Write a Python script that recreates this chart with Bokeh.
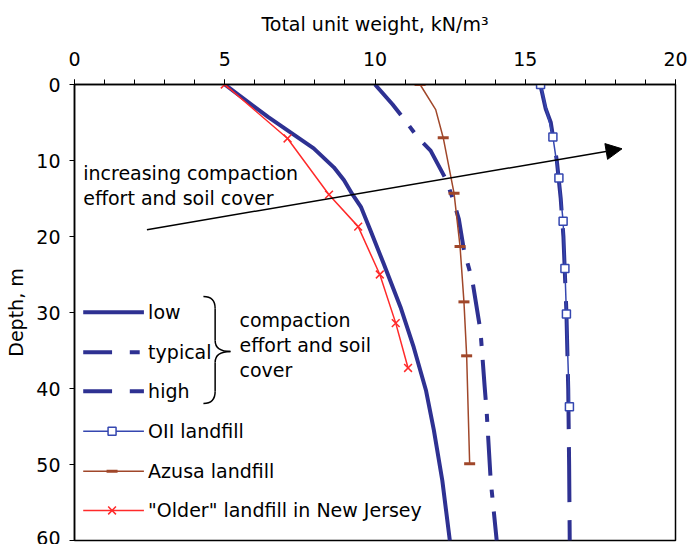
from bokeh.plotting import figure
from bokeh.models import Range1d, Arrow, NormalHead, FixedTicker
from bokeh.core.properties import value
from bokeh.embed import file_html
from bokeh.resources import INLINE

# ---------------- data ----------------
x_ticks = [0, 5, 10, 15, 20]
y_ticks = [0, 10, 20, 30, 40, 50, 60]

low_depth = [0, 4.3, 8.4, 10.9, 12.6, 14.4, 16.1, 19.2, 23.6, 29.3, 34.6, 40.3, 45.5, 52.1, 60]
low_gamma = [5.0, 6.45, 7.96, 8.63, 8.97, 9.24, 9.53, 9.85, 10.29, 10.85, 11.29, 11.70, 11.96, 12.24, 12.49]

typ_depth = [0, 2.6, 4.5, 6.9, 8.7, 12.4, 14.8, 17.7, 21.8, 25.8, 32.4, 39.8, 43.3, 52.1, 60]
typ_gamma = [10.0, 10.58, 10.96, 11.41, 11.85, 12.35, 12.57, 12.79, 12.96, 13.24, 13.51, 13.65, 13.72, 13.85, 14.05]

high_depth = [0, 3.2, 5, 10, 15, 20, 30, 40, 50, 60]
high_gamma = [15.5, 15.68, 15.85, 16.05, 16.18, 16.27, 16.37, 16.43, 16.46, 16.48]

oii_depth = [0, 6.9, 12.3, 18.0, 24.2, 30.2, 42.4]
oii_gamma = [15.51, 15.92, 16.12, 16.26, 16.32, 16.37, 16.47]

azusa_depth = [0, 7.0, 14.3, 21.3, 28.6, 35.7, 49.9]
azusa_gamma = [11.5, 12.27, 12.63, 12.83, 12.96, 13.05, 13.15]
azusa_line_depth = [0, 3.3, 7.0, 14.3, 21.3, 28.6, 35.7, 49.9]
azusa_line_gamma = [11.5, 12.02, 12.27, 12.63, 12.83, 12.96, 13.05, 13.15]

nj_depth = [0, 7.1, 14.5, 18.7, 25.0, 31.4, 37.3]
nj_gamma = [5.0, 7.09, 8.47, 9.44, 10.16, 10.69, 11.1]

legend_labels = ["low", "typical", "high", "OII landfill", "Azusa landfill",
                 "\"Older\" landfill in New Jersey"]
brace_text = ["compaction", "effort and soil", "cover"]
arrow_text = ["increasing compaction", "effort and soil cover"]

# ---------------- styles ----------------
NAVY = "#2E3192"
OII_BLUE = "#3547B0"
BROWN = "#A0472A"
RED = "#FF2A2A"
FONT = "DejaVu Sans"
FS = "19px"
LW = 4

p = figure(width=689, height=544, output_backend="svg", toolbar_location=None,
           x_range=Range1d(0, 20), y_range=Range1d(60, 0),
           x_axis_location="above", min_border_left=74, min_border_right=14,
           min_border_top=84, min_border_bottom=4)
p.grid.visible = False
p.outline_line_color = "black"
p.outline_line_width = 1.5
p.background_fill_color = "white"
p.border_fill_color = "white"

xa = p.xaxis[0]
xa.ticker = FixedTicker(ticks=x_ticks, minor_ticks=list(range(0, 21)))
xa.axis_label = "Total unit weight, kN/m³"
ya = p.yaxis[0]
ya.ticker = FixedTicker(ticks=y_ticks)
ya.axis_label = "Depth, m"
for ax in (xa, ya):
    ax.axis_label_text_font = FONT
    ax.axis_label_text_font_size = FS
    ax.axis_label_text_font_style = "normal"
    ax.axis_label_text_color = "black"
    ax.major_label_text_font = FONT
    ax.major_label_text_font_size = FS
    ax.major_label_text_color = "black"
    ax.axis_line_color = "black"
    ax.axis_line_width = 1.5
    ax.major_tick_line_color = "black"
    ax.major_tick_in = 0
    ax.major_tick_out = 5
xa.minor_tick_line_color = "black"
xa.minor_tick_in = 0
xa.minor_tick_out = 5
ya.minor_tick_line_color = None
xa.major_label_standoff = 14
xa.axis_label_standoff = 14
ya.major_label_standoff = 9
ya.axis_label_standoff = 6

# ---------------- curves ----------------
p.line(low_gamma, low_depth, line_color=NAVY, line_width=LW, line_join="round")
p.line(typ_gamma, typ_depth, line_color=NAVY, line_width=LW, line_dash="40 14 8 14")
p.line(high_gamma, high_depth, line_color=NAVY, line_width=LW, line_dash="55 18")
p.line(oii_gamma, oii_depth, line_color=OII_BLUE, line_width=1.5)
p.scatter(oii_gamma, oii_depth, marker="square", size=8, line_color=OII_BLUE,
          line_width=1.5, fill_color="white")
p.line(azusa_line_gamma, azusa_line_depth, line_color=BROWN, line_width=1.5)
p.scatter(azusa_gamma, azusa_depth, marker="dash", size=11, line_color=BROWN, line_width=3)
p.line(nj_gamma, nj_depth, line_color=RED, line_width=1.5)
p.scatter(nj_gamma, nj_depth, marker="x", size=11, line_color=RED, line_width=1.5)

# ---------------- arrow annotation ----------------
p.add_layout(Arrow(end=NormalHead(size=16, fill_color="black", line_color="black"),
                   x_start=2.41, y_start=19.1, x_end=18.22, y_end=8.46,
                   line_color="black", line_width=1.5))
p.text(x=[0.29, 0.29], y=[11.67, 14.87], text=arrow_text, text_font=value(FONT),
       text_font_size=FS, text_baseline="middle", text_align="left", text_color="black")

# ---------------- manual legend ----------------
lx0, lx1, lmid, ltx = 0.29, 2.31, 1.25, 2.45
rows = [29.96, 35.22, 40.36, 45.62, 50.88, 56.05]
p.segment(x0=[lx0], y0=[rows[0]], x1=[lx1], y1=[rows[0]], line_color=NAVY, line_width=LW)
p.segment(x0=[lx0, 1.84], y0=[rows[1]] * 2, x1=[lmid, 2.17], y1=[rows[1]] * 2,
          line_color=NAVY, line_width=LW)
p.segment(x0=[lx0, 1.84], y0=[rows[2]] * 2, x1=[lmid, lx1], y1=[rows[2]] * 2,
          line_color=NAVY, line_width=LW)
p.segment(x0=[lx0], y0=[rows[3]], x1=[lx1], y1=[rows[3]], line_color=OII_BLUE, line_width=1.5)
p.scatter([lmid], [rows[3]], marker="square", size=8, line_color=OII_BLUE,
          line_width=1.5, fill_color="white")
p.segment(x0=[lx0], y0=[rows[4]], x1=[lx1], y1=[rows[4]], line_color=BROWN, line_width=1.5)
p.scatter([lmid], [rows[4]], marker="dash", size=11, line_color=BROWN, line_width=3)
p.segment(x0=[lx0], y0=[rows[5]], x1=[lx1], y1=[rows[5]], line_color=RED, line_width=1.5)
p.scatter([lmid], [rows[5]], marker="x", size=11, line_color=RED, line_width=1.5)
p.text(x=[ltx] * 6, y=rows, text=legend_labels, text_font=value(FONT), text_font_size=FS,
       text_baseline="middle", text_align="left", text_color="black")

# brace
bx0, bx1, bx2 = 4.29, 4.68, 5.19
p.quadratic(x0=[bx0, bx1, bx2, bx1], y0=[27.9, 33.68, 35.13, 40.39],
            x1=[bx1, bx2, bx1, bx0], y1=[29.47, 35.13, 36.58, 41.97],
            cx=[bx1, bx1, bx1, bx1], cy=[27.9, 35.13, 35.13, 41.97],
            line_color="black", line_width=1.5)
p.segment(x0=[bx1, bx1], y0=[29.47, 36.58], x1=[bx1, bx1], y1=[33.68, 40.39],
          line_color="black", line_width=1.5)
p.text(x=[5.49] * 3, y=[31.05, 34.34, 37.5], text=brace_text, text_font=value(FONT),
       text_font_size=FS, text_baseline="middle", text_align="left", text_color="black")

open("out.html", "w").write(file_html(p, INLINE))
